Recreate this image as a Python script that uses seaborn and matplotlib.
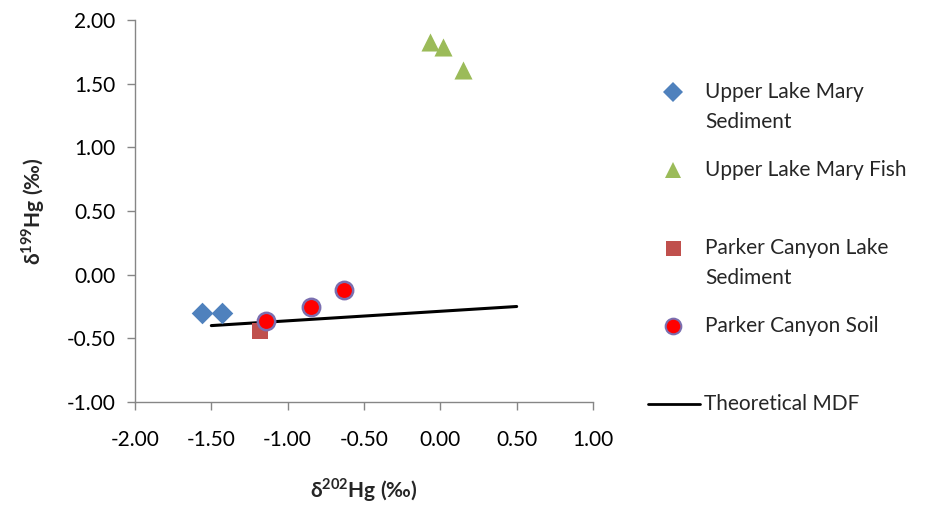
import matplotlib
matplotlib.use("Agg")
import matplotlib.pyplot as plt
import seaborn as sns
import pandas as pd
from matplotlib.lines import Line2D

# Data
ulm_sed_x = [-1.56, -1.43]
ulm_sed_y = [-0.30, -0.30]
ulm_fish_x = [-0.07, 0.02, 0.15]
ulm_fish_y = [1.83, 1.79, 1.61]
pcl_sed_x = [-1.18]
pcl_sed_y = [-0.44]
pc_soil_x = [-1.14, -0.85, -0.63]
pc_soil_y = [-0.36, -0.25, -0.12]
mdf_x = [-1.50, 0.50]
mdf_y = [-0.40, -0.25]

x_ticks = [-2.0, -1.5, -1.0, -0.5, 0.0, 0.5, 1.0]
y_ticks = [-1.0, -0.5, 0.0, 0.5, 1.0, 1.5, 2.0]

FS = 15

sns.set_theme(style="white")
plt.rcParams['font.family'] = ['Lato', 'DejaVu Sans']
plt.rcParams['mathtext.fontset'] = 'custom'
plt.rcParams['mathtext.bf'] = 'Lato:bold'
plt.rcParams['mathtext.rm'] = 'Lato'

fig = plt.figure(figsize=(9.35, 5.08), dpi=100)
ax = fig.add_axes([135 / 935, 1 - 402 / 508, 458 / 935, 382 / 508])

groups = [
    ("Upper Lake Mary\nSediment", ulm_sed_x, ulm_sed_y, "D", "#4F81BD", "#4F81BD", 11),
    ("Upper Lake Mary Fish", ulm_fish_x, ulm_fish_y, "^", "#9BBB59", "#9BBB59", 13),
    ("Parker Canyon Lake\nSediment", pcl_sed_x, pcl_sed_y, "s", "#C0504D", "#C0504D", 12),
    ("Parker Canyon Soil", pc_soil_x, pc_soil_y, "o", "#FF0000", "#7B6FB0", 12.5),
]

ax.plot(mdf_x, mdf_y, color="black", lw=2.2, zorder=2)
for name, xs, ys, m, fc, ec, sz in groups:
    df = pd.DataFrame({"x": xs, "y": ys})
    sns.scatterplot(data=df, x="x", y="y", marker=m, color=fc, edgecolor=ec,
                    linewidth=1.8 if m == "o" else 0, s=sz ** 2, ax=ax, zorder=3)

ax.set_xlim(-2.0, 1.0)
ax.set_ylim(-1.0, 2.0)
ax.set_xticks(x_ticks)
ax.set_yticks(y_ticks)
ax.set_xticklabels([f"{v:.2f}" for v in x_ticks])
ax.set_yticklabels([f"{v:.2f}" for v in y_ticks])
ax.tick_params(axis="both", direction="out", length=6, width=1, color="#868686",
               labelsize=FS, labelcolor="black", pad=6)
ax.tick_params(axis="x", bottom=True, pad=14)
ax.tick_params(axis="y", left=True, pad=8)
for s in ["top", "right"]:
    ax.spines[s].set_visible(False)
for s in ["left", "bottom"]:
    ax.spines[s].set_color("#868686")
    ax.spines[s].set_linewidth(1)

ax.set_xlabel(r"δ$^{\mathbf{202}}$Hg (‰)", fontsize=FS, fontweight="bold", labelpad=19)
ax.set_ylabel(r"δ$^{\mathbf{199}}$Hg (‰)", fontsize=FS, fontweight="bold", labelpad=14)

# Legend drawn by hand to keep Excel's layout (marker on first text line)
entry_y = [92, 170, 248, 326]
for (name, xs, ys, m, fc, ec, sz), yp in zip(groups, entry_y):
    fy = 1 - yp / 508
    fig.add_artist(Line2D([673 / 935], [fy], marker=m, markersize=sz * 0.9,
                          markerfacecolor=fc, markeredgecolor=ec,
                          markeredgewidth=1.5 if m == "o" else 0,
                          linestyle="none", transform=fig.transFigure))
    fig.text(705 / 935, 1 - (yp - 10) / 508, name, fontsize=FS, va="top", ha="left",
             transform=fig.transFigure, linespacing=1.6)
fy = 1 - 404 / 508
fig.add_artist(Line2D([648 / 935, 700 / 935], [fy, fy], color="black", lw=2,
                      transform=fig.transFigure))
fig.text(704 / 935, fy, "Theoretical MDF", fontsize=FS, va="center", ha="left",
         transform=fig.transFigure)

fig.savefig("out.png", dpi=100)
